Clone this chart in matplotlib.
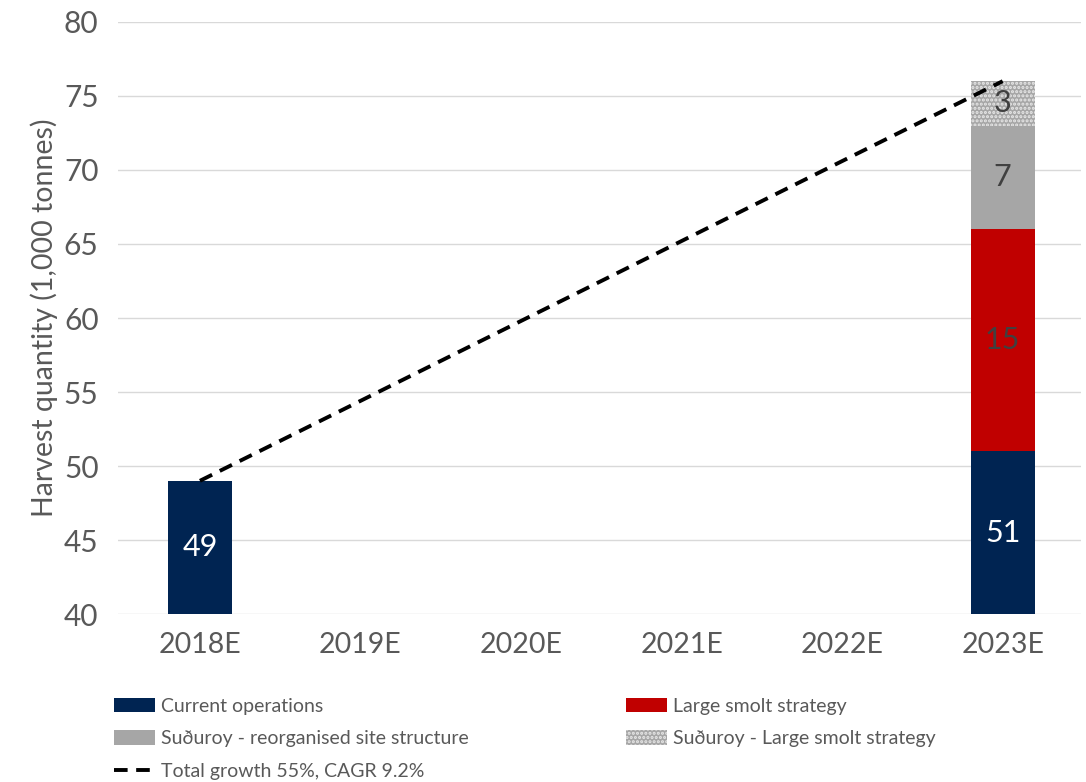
import matplotlib
matplotlib.use("Agg")
import matplotlib.pyplot as plt
import numpy as np

plt.rcParams['font.family'] = ['Lato', 'DejaVu Sans']
plt.rcParams['hatch.linewidth'] = 1.5

years = ["2018E", "2019E", "2020E", "2021E", "2022E", "2023E"]
current_ops = [49, 0, 0, 0, 0, 51]
large_smolt = [0, 0, 0, 0, 0, 15]
suduroy_site = [0, 0, 0, 0, 0, 7]
suduroy_smolt = [0, 0, 0, 0, 0, 3]
total_start = 49
total_end = 76

navy = "#002452"
red = "#c00000"
grey = "#a6a6a6"
text_grey = "#595959"

fig = plt.figure(figsize=(10.86, 7.82), dpi=100)
ax = fig.add_axes([0.1087, 0.2148, 0.887, 0.7571])

x = np.arange(len(years))
w = 0.4
cur = np.array(current_ops)
ls = np.array(large_smolt)
ss = np.array(suduroy_site)
sm = np.array(suduroy_smolt)

base = 40
b1 = ax.bar(x, cur - base, w, bottom=base, color=navy, label="Current operations")
b2 = ax.bar(x, ls, w, bottom=cur, color=red, label="Large smolt strategy")
b3 = ax.bar(x, ss, w, bottom=cur + ls, color=grey, label="Suðuroy - reorganised site structure")
b4 = ax.bar(x, sm, w, bottom=cur + ls + ss, color=grey, edgecolor="#e8e8e8",
            linewidth=0, hatch="....", label="Suðuroy - Large smolt strategy")
ln, = ax.plot([0, 5], [total_start, total_end], color="black", lw=2.8,
              dashes=(3.5, 2.2), label="Total growth 55%, CAGR 9.2%")

# value labels on the segments
for i in x:
    if cur[i] > 0:
        ax.text(i, (base + cur[i]) / 2, str(cur[i]), ha="center", va="center",
                color="white", fontsize=22)
    if ls[i] > 0:
        ax.text(i, cur[i] + ls[i] / 2, str(ls[i]), ha="center", va="center",
                color="#404040", fontsize=22)
    if ss[i] > 0:
        ax.text(i, cur[i] + ls[i] + ss[i] / 2, str(ss[i]), ha="center", va="center",
                color="#404040", fontsize=22)
    if sm[i] > 0:
        ax.text(i, cur[i] + ls[i] + ss[i] + sm[i] / 2, str(sm[i]), ha="center",
                va="center", color="#404040", fontsize=22)

ax.set_ylim(40, 80)
ax.set_xlim(-0.51, 5.49)
ax.set_yticks(np.arange(40, 81, 5))
ax.set_xticks(x)
ax.set_xticklabels(years)
ax.tick_params(axis="both", length=0, colors=text_grey)
ax.tick_params(axis="x", pad=13, labelsize=20.5)
ax.tick_params(axis="y", pad=14, labelsize=21.5)
ax.grid(axis="y", color="#d9d9d9", lw=1)
ax.set_axisbelow(True)
for s in ax.spines.values():
    s.set_visible(False)
ax.set_ylabel("Harvest quantity (1,000 tonnes)", fontsize=20.5, color=text_grey, labelpad=4)

handles = [b1, b3, ln, b2, b4]
labels = [h.get_label() for h in handles]
fig.legend(handles, labels, ncol=2, loc="upper left", bbox_to_anchor=(0.089, 0.13),
           frameon=False, fontsize=14, handlelength=2.1, handleheight=0.75,
           handletextpad=0.3, labelspacing=0.8, columnspacing=8.1,
           labelcolor=text_grey)

fig.savefig("out.png", dpi=100)
